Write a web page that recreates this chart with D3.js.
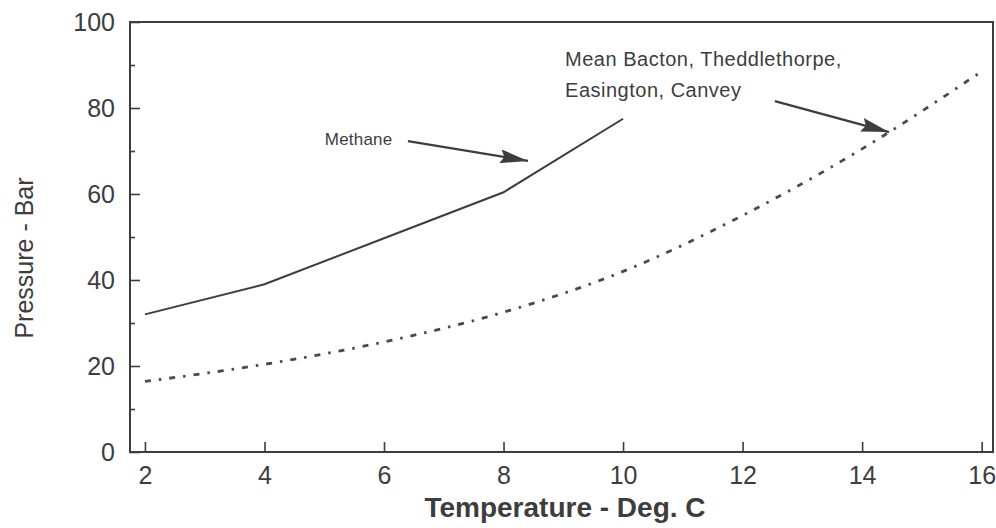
<!DOCTYPE html>
<html lang="en">
<head>
<meta charset="utf-8">
<title>Pressure vs Temperature</title>
<style>
  html,body { margin:0; padding:0; background:#fff; }
  svg { display:block; }
  text { font-family: "Liberation Sans", Arial, Helvetica, sans-serif; fill:#3d3d3d; }
</style>
<script src="https://d3js.org/d3.v7.min.js"></script>
</head>
<body>
<svg width="996" height="528"></svg>
<script>
// values
const methaneTemp = [2, 4, 6, 8, 10];
const methanePress = [32, 39, 49.7, 60.4, 77.5];

const meanTemp = [2, 4, 6, 8, 10, 12, 14, 16];
const meanPress = [16.4, 20.4, 25.6, 32.5, 42, 55, 70.5, 88.5];

const xTicks = [2, 4, 6, 8, 10, 12, 14, 16];
const yTicks = [0, 20, 40, 60, 80, 100];
const yMinor = [10, 30, 50, 70, 90];

// annotation anchors, in data units
const labels = [
  {text: "Methane", t: 5.01, p: 71.4, size: 17, ls: 0.2},
  {text: "Mean Bacton, Theddlethorpe,", t: 9.03, p: 89.8, size: 20, ls: 0.5},
  {text: "Easington, Canvey", t: 9.03, p: 82.6, size: 20, ls: 0.5}
];
const arrows = [
  {from: [6.40, 72.3], to: [8.41, 67.7]},
  {from: [12.54, 81.6], to: [14.45, 74.4]}
];

const ink = "#3d3d3d";
const svg = d3.select("svg");

const x = d3.scaleLinear().domain([1.75, 16.19]).range([130, 993]);
const y = d3.scaleLinear().domain([0, 100]).range([452, 22]);

// frame
svg.append("rect")
  .attr("x", x.range()[0]).attr("y", y.range()[1])
  .attr("width", x.range()[1] - x.range()[0])
  .attr("height", y.range()[0] - y.range()[1])
  .attr("fill", "none").attr("stroke", ink).attr("stroke-width", 2);

svg.append("g")
  .attr("transform", `translate(0,${y.range()[0]})`)
  .call(d3.axisBottom(x).tickValues(xTicks).tickSizeInner(-10).tickSizeOuter(0).tickPadding(14));

svg.append("g")
  .attr("transform", `translate(${x.range()[0]},0)`)
  .call(d3.axisLeft(y).tickValues(yTicks).tickSizeInner(-10).tickSizeOuter(0).tickPadding(15));

svg.append("g")
  .attr("transform", `translate(${x.range()[0]},0)`)
  .call(d3.axisLeft(y).tickValues(yMinor).tickSizeInner(-5).tickSizeOuter(0).tickFormat(""));

svg.selectAll(".domain").remove();
svg.selectAll(".tick line").attr("stroke", ink).attr("stroke-width", 1.6);
svg.selectAll(".tick text").attr("font-size", 25).attr("fill", ink)
  .style("font-family", "'Liberation Sans', Arial, sans-serif");

// axis titles
svg.append("text")
  .attr("transform", `translate(33,${(y.range()[0] + y.range()[1]) / 2 + 21}) rotate(-90)`)
  .attr("text-anchor", "middle")
  .attr("font-size", 25)
  .text("Pressure - Bar");

svg.append("text")
  .attr("x", 565).attr("y", 517)
  .attr("text-anchor", "middle")
  .attr("font-size", 28).attr("font-weight", "bold")
  .text("Temperature - Deg. C");

// series
const line = d3.line().x(d => x(d[0])).y(d => y(d[1]));

svg.append("path")
  .datum(d3.zip(methaneTemp, methanePress))
  .attr("d", line)
  .attr("fill", "none").attr("stroke", ink).attr("stroke-width", 2);

svg.append("path")
  .datum(d3.zip(meanTemp, meanPress))
  .attr("d", line.curve(d3.curveMonotoneX))
  .attr("fill", "none").attr("stroke", "#4a4a4a").attr("stroke-width", 2.8)
  .attr("stroke-dasharray", "6,8,2.5,8");

// annotations
svg.append("defs").append("marker")
  .attr("id", "head")
  .attr("viewBox", "0 0 28 14")
  .attr("refX", 28).attr("refY", 7)
  .attr("markerWidth", 28).attr("markerHeight", 14)
  .attr("markerUnits", "userSpaceOnUse")
  .attr("orient", "auto")
  .append("path")
  .attr("d", "M0,0 L28,7 L0,14 L4,7 Z")
  .attr("fill", ink);

svg.selectAll("line.arrow")
  .data(arrows)
  .enter().append("line")
  .attr("class", "arrow")
  .attr("x1", d => x(d.from[0])).attr("y1", d => y(d.from[1]))
  .attr("x2", d => x(d.to[0])).attr("y2", d => y(d.to[1]))
  .attr("stroke", ink).attr("stroke-width", 2.2)
  .attr("marker-end", "url(#head)");

svg.selectAll("text.note")
  .data(labels)
  .enter().append("text")
  .attr("class", "note")
  .attr("x", d => x(d.t)).attr("y", d => y(d.p))
  .attr("font-size", d => d.size)
  .attr("letter-spacing", d => d.ls)
  .text(d => d.text);
</script>
</body>
</html>
